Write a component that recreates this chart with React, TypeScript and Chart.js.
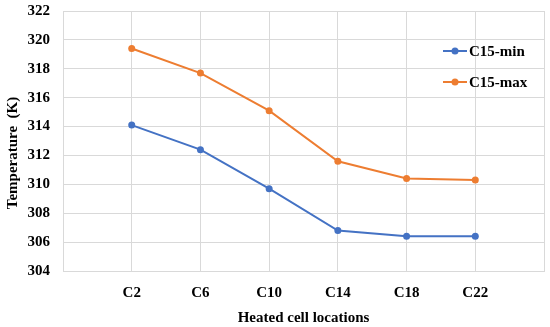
import React, { useEffect, useRef } from "react";
import { Chart, registerables } from "chart.js";

Chart.register(...registerables);

const categories = ["", "C2", "C6", "C10", "C14", "C18", "C22", ""];
const minSeries = [null, 314.1, 312.4, 309.7, 306.8, 306.4, 306.4, null];
const maxSeries = [null, 319.4, 317.7, 315.1, 311.6, 310.4, 310.3, null];
const seriesNames = ["C15-min", "C15-max"];
const seriesColors = ["#4472C4", "#ED7D31"];
const yTitle = "Temperature  (K)";
const xTitle = "Heated cell locations";
const yMin = 304;
const yMax = 322;
const yStep = 2;

const FONT = "'Liberation Serif', 'Times New Roman', serif";

const legendPlugin = {
  id: "insideLegend",
  afterDraw(chart: any) {
    const ctx = chart.ctx;
    ctx.save();
    const x0 = 443;
    const ys = [51, 82];
    seriesNames.forEach((name, i) => {
      const y = ys[i];
      ctx.strokeStyle = seriesColors[i];
      ctx.lineWidth = 2;
      ctx.beginPath();
      ctx.moveTo(x0, y);
      ctx.lineTo(x0 + 24, y);
      ctx.stroke();
      ctx.fillStyle = seriesColors[i];
      ctx.beginPath();
      ctx.arc(x0 + 12, y, 3.5, 0, Math.PI * 2);
      ctx.fill();
      ctx.fillStyle = "#000";
      ctx.font = `bold 15px ${FONT}`;
      ctx.textBaseline = "middle";
      ctx.textAlign = "left";
      ctx.fillText(name, x0 + 26, y + 1);
    });
    // y axis title
    ctx.translate(13, 153);
    ctx.rotate(-Math.PI / 2);
    ctx.font = `bold 15px ${FONT}`;
    ctx.textAlign = "center";
    ctx.textBaseline = "middle";
    ctx.fillStyle = "#000";
    ctx.fillText(yTitle, 0, 0);
    ctx.restore();
  },
};

export default function App() {
  const ref = useRef<HTMLCanvasElement>(null);
  useEffect(() => {
    if (!ref.current) return;
    const chart = new Chart(ref.current, {
      type: "line",
      data: {
        labels: categories,
        datasets: [minSeries, maxSeries].map((d, i) => ({
          label: seriesNames[i],
          data: d,
          borderColor: seriesColors[i],
          backgroundColor: seriesColors[i],
          borderWidth: 2,
          pointRadius: 3.5,
          pointBorderWidth: 0,
          tension: 0,
        })),
      },
      options: {
        animation: false,
        responsive: false,
        maintainAspectRatio: false,
        layout: { padding: { top: 11, right: 6, left: 0, bottom: 0 } },
        plugins: { legend: { display: false }, tooltip: { enabled: false } },
        scales: {
          x: {
            offset: false,
            grid: { color: "#D9D9D9", drawTicks: false, lineWidth: 1 },
            border: { color: "#D9D9D9" },
            ticks: {
              color: "#000",
              font: { family: FONT, size: 15, weight: "bold" },
              padding: 13,
              autoSkip: false,
              maxRotation: 0,
            },
            title: {
              display: true,
              text: xTitle,
              color: "#000",
              font: { family: FONT, size: 15, weight: "bold" },
              padding: { top: 1, bottom: 0 },
            },
            afterFit(scale: any) {
              scale.height = 56;
              scale.paddingLeft = 0;
              scale.paddingRight = 0;
            },
          },
          y: {
            min: yMin,
            max: yMax,
            grid: { color: "#D9D9D9", drawTicks: false, lineWidth: 1 },
            border: { color: "#D9D9D9" },
            ticks: {
              stepSize: yStep,
              color: "#000",
              font: { family: FONT, size: 15, weight: "bold" },
              padding: 13,
            },
            afterFit(scale: any) {
              scale.width = 63;
              scale.paddingTop = 0;
              scale.paddingBottom = 0;
            },
          },
        },
      },
      plugins: [legendPlugin],
    });
    return () => chart.destroy();
  }, []);
  return (
    <div style={{ position: "fixed", left: 0, top: 0, width: 550, height: 327, background: "#fff" }}>
      <canvas ref={ref} width={550} height={327} style={{ width: 550, height: 327 }} />
    </div>
  );
}
